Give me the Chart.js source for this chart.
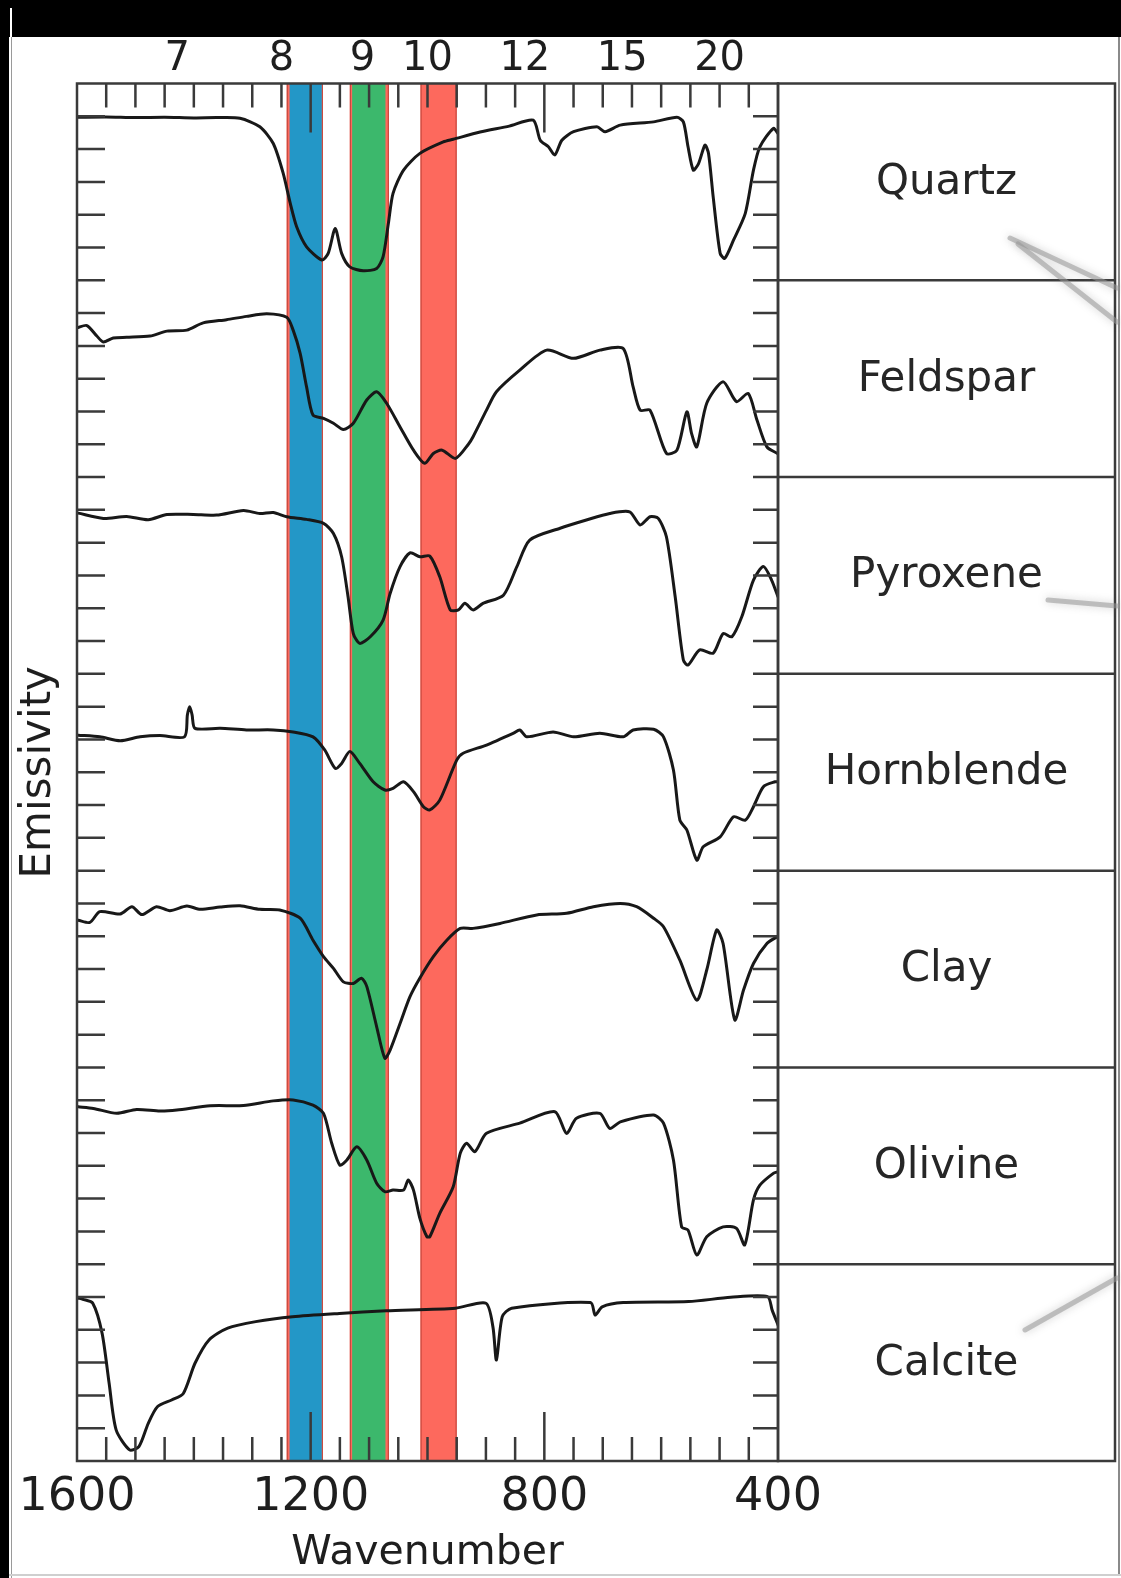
<!DOCTYPE html>
<html>
<head>
<meta charset="utf-8">
<script src="https://cdn.jsdelivr.net/npm/chart.js@4.4.1/dist/chart.umd.min.js"></script>
<style>
html,body{margin:0;padding:0;background:#fff;}
#wrap{position:relative;width:1121px;height:1578px;overflow:hidden;}
canvas{display:block;}
</style>
</head>
<body>
<div id="wrap"><canvas id="c" width="1121" height="1578" style="width:1121px;height:1578px"></canvas></div>
<script>
// ---------------- DATA ----------------
const minerals = ['Quartz','Feldspar','Pyroxene','Hornblende','Clay','Olivine','Calcite'];

const bottomTickLabels = [1600, 1200, 800, 400];      // wavenumber (cm-1)
const topTickLabels = [7, 8, 9, 10, 12, 15, 20];       // wavelength (µm)

// sensor bands (wavenumber ranges)
const bandFrom = [1241, 1133, 1012];
const bandTo   = [1179, 1066, 950];
const innerFrom = [1236, 1129];
const innerTo   = [1181, 1072];

const quartzWn  = [1600,1550,1500,1450,1400,1360,1321,1287,1264,1247,1235,1224,1207,1181,1170,1158,1147,1133,1110,1087,1076,1067,1059,1041,1013,973,956,910,860,819,807,793,782,770,750,710,696,670,613,573,562,554,545,536,525,519,511,499,491,476,456,442,431,408,400];
const quartzVal = [4.97,4.98,4.96,4.97,4.95,4.96,4.94,4.68,4.17,3.26,2.35,1.63,1.02,0.62,0.82,1.58,0.82,0.41,0.29,0.36,0.72,1.73,2.65,3.36,3.87,4.22,4.30,4.52,4.70,4.88,4.27,4.07,3.82,4.27,4.53,4.68,4.53,4.73,4.83,4.97,4.83,4.07,3.36,3.56,4.12,3.87,2.55,0.82,0.67,1.23,2.04,3.36,4.07,4.63,4.48];

const feldsparWn  = [1600,1583,1566,1555,1538,1515,1475,1446,1412,1384,1344,1310,1275,1241,1230,1218,1207,1196,1178,1161,1144,1127,1104,1087,1070,1047,1024,1005,990,975,952,930,922,899,882,842,796,750,705,665,648,636,619,591,573,556,548,539,522,494,471,451,436,419,401];
const feldsparVal = [4.55,4.62,4.30,4.12,4.24,4.26,4.30,4.45,4.48,4.70,4.80,4.90,4.98,4.87,4.48,3.77,2.75,1.89,1.79,1.64,1.45,1.64,2.35,2.60,2.25,1.53,0.82,0.42,0.72,0.82,0.57,1.00,1.23,2.04,2.60,3.26,3.87,3.62,3.87,3.92,2.75,2.04,2.04,0.72,0.82,1.99,1.33,0.92,2.25,2.91,2.30,2.55,1.74,0.92,0.72];

const pyroxeneWn  = [1598,1555,1515,1478,1446,1401,1361,1315,1287,1264,1241,1207,1178,1161,1147,1136,1127,1116,1098,1076,1064,1047,1030,1013,996,979,961,947,936,922,905,870,847,825,773,728,688,654,636,619,605,591,576,562,554,534,511,494,479,462,442,425,411,400];
const pyroxeneVal = [4.90,4.74,4.80,4.70,4.86,4.86,4.84,4.98,4.89,4.92,4.79,4.71,4.59,4.28,3.57,2.35,1.23,0.93,1.13,1.64,2.45,3.27,3.69,3.57,3.59,2.96,1.95,1.95,2.15,1.95,2.15,2.40,3.27,4.08,4.44,4.69,4.89,4.94,4.54,4.79,4.74,4.18,2.35,0.42,0.27,0.73,0.63,1.23,1.13,1.74,2.86,3.27,2.86,2.35];

const hornblendeWn  = [1598,1561,1526,1492,1458,1416,1411,1407,1403,1398,1355,1310,1264,1230,1196,1176,1158,1147,1133,1116,1093,1073,1059,1041,1024,1007,996,979,950,939,899,853,842,830,785,750,705,665,648,613,596,579,568,556,539,528,499,476,456,442,425,405,400];
const hornblendeVal = [4.13,4.08,3.96,4.08,4.12,4.08,4.75,5.00,4.75,4.34,4.34,4.29,4.29,4.23,4.08,3.68,3.12,3.27,3.63,3.27,2.71,2.46,2.51,2.71,2.41,1.95,1.85,2.15,3.37,3.58,3.83,4.19,4.29,4.08,4.23,4.08,4.19,4.08,4.29,4.31,4.08,3.07,1.54,1.24,0.32,0.73,1.03,1.64,1.54,1.95,2.56,2.71,2.71];

const clayWn  = [1598,1578,1561,1526,1506,1489,1464,1441,1412,1389,1355,1321,1287,1253,1218,1196,1178,1161,1144,1127,1113,1104,1087,1073,1064,1047,1030,1013,990,967,944,922,876,813,762,716,670,642,613,596,568,539,522,505,494,474,459,442,419,402];
const clayVal = [4.49,4.42,4.75,4.68,4.90,4.66,4.90,4.78,4.92,4.82,4.89,4.93,4.82,4.80,4.55,3.88,3.38,3.02,2.61,2.56,2.72,2.47,1.24,0.28,0.53,1.34,2.16,2.73,3.38,3.88,4.24,4.24,4.39,4.65,4.70,4.90,5.00,4.90,4.55,4.29,3.27,2.05,2.97,4.19,3.78,1.45,2.36,3.17,3.78,3.98];

const olivineWn  = [1598,1572,1532,1498,1458,1429,1372,1315,1264,1230,1196,1178,1164,1150,1138,1121,1104,1087,1073,1059,1041,1033,1024,1013,1001,996,979,956,944,933,919,899,842,782,762,745,705,688,670,613,596,579,565,554,539,522,494,471,457,442,431,408,400];
const olivineVal = [4.80,4.75,4.60,4.72,4.67,4.70,4.83,4.84,4.98,5.01,4.85,4.60,3.69,3.02,3.18,3.58,3.18,2.47,2.21,2.26,2.26,2.57,2.26,1.40,0.84,0.84,1.55,2.36,3.38,3.69,3.43,3.99,4.30,4.65,3.99,4.45,4.60,4.14,4.34,4.55,4.30,3.18,1.14,1.04,0.28,0.84,1.14,1.09,0.59,1.96,2.41,2.77,2.82];

const calciteWn  = [1598,1590,1573,1557,1545,1533,1510,1494,1478,1462,1438,1418,1398,1374,1342,1294,1231,1151,1071,952,900,888,882,872,856,721,713,701,665,553,481,418,410,400];
const calciteVal = [4.97,4.93,4.81,3.89,2.37,0.95,0.34,0.44,1.15,1.66,1.86,2.06,2.98,3.69,4.05,4.25,4.40,4.50,4.58,4.66,4.81,4.09,3.08,4.40,4.66,4.83,4.45,4.70,4.83,4.86,4.99,5.01,4.60,4.15];

const spectraWn  = [quartzWn, feldsparWn, pyroxeneWn, hornblendeWn, clayWn, olivineWn, calciteWn];
const spectraVal = [quartzVal, feldsparVal, pyroxeneVal, hornblendeVal, clayVal, olivineVal, calciteVal];

// ---------------- STYLE / LAYOUT ----------------
const W = 1121, H = 1578;
const UNITS = 6;                       // y units per mineral panel
const YMAX = minerals.length * UNITS;
const INK = '#3a3a3a';
const LINE = '#181818';
const BOX_RIGHT = 1115;
const FONT = 'DejaVu Sans';

const datasets = minerals.map((name, i) => {
  const off = (minerals.length - 1 - i) * UNITS;
  return {
    label: name,
    data: spectraWn[i].map((w, k) => ({x: w, y: spectraVal[i][k] + off})),
    borderColor: LINE, borderWidth: 3, pointRadius: 0, tension: 0.25, fill: false,
    borderJoinStyle: 'round', borderCapStyle: 'round'
  };
});

const decorPlugin = {
  id: 'decor',
  beforeDraw(chart) {
    const ctx = chart.ctx;
    ctx.save();
    ctx.fillStyle = '#fff'; ctx.fillRect(0, 0, W, H);
    ctx.fillStyle = '#000';
    ctx.fillRect(0, 0, W, 37);
    ctx.fillRect(0, 0, 9, H);
    ctx.fillStyle = '#fff'; ctx.fillRect(10, 8, 2, 30);
    ctx.fillStyle = '#9a9a9a'; ctx.fillRect(11, 37, 1, H - 37);
    ctx.fillStyle = '#8a8a8a'; ctx.fillRect(1118, 37, 2, H - 40);
    ctx.fillStyle = '#cfcfcf'; ctx.fillRect(9, H - 4, W - 9, 2);
    ctx.restore();
  },
  beforeDatasetsDraw(chart) {
    const ctx = chart.ctx, xs = chart.scales.x, a = chart.chartArea;
    ctx.save();
    const red = '#fd695d', redEdge = '#c9483e';
    for (let i = 0; i < bandFrom.length; i++) {
      const x1 = xs.getPixelForValue(bandFrom[i]), x2 = xs.getPixelForValue(bandTo[i]);
      ctx.fillStyle = red; ctx.fillRect(x1, a.top, x2 - x1, a.bottom - a.top);
      ctx.fillStyle = redEdge;
      ctx.fillRect(x1, a.top, 1.2, a.bottom - a.top);
      ctx.fillRect(x2 - 1.2, a.top, 1.2, a.bottom - a.top);
    }
    const inner = ['#2397c7', '#3cb86c'];
    for (let i = 0; i < innerFrom.length; i++) {
      const x1 = xs.getPixelForValue(innerFrom[i]), x2 = xs.getPixelForValue(innerTo[i]);
      ctx.fillStyle = inner[i]; ctx.fillRect(x1, a.top, x2 - x1, a.bottom - a.top);
    }
    ctx.restore();
  },
  afterDatasetsDraw(chart) {
    const ctx = chart.ctx, xs = chart.scales.x, ys = chart.scales.y, a = chart.chartArea;
    ctx.save();
    ctx.strokeStyle = INK; ctx.lineWidth = 2.5; ctx.lineCap = 'butt';
    // x minor/major ticks (top & bottom, inward)
    for (let w = 450; w <= 1550; w += 50) {
      const x = xs.getPixelForValue(w);
      const major = (w % 400 === 0);
      const len = major ? 49 : 24;
      ctx.beginPath();
      ctx.moveTo(x, a.top); ctx.lineTo(x, a.top + len);
      ctx.moveTo(x, a.bottom); ctx.lineTo(x, a.bottom - len);
      ctx.stroke();
    }
    // y ticks (left & right, inward), panel boundaries extend into label boxes
    for (let v = 1; v < YMAX; v++) {
      const y = ys.getPixelForValue(v);
      ctx.beginPath();
      ctx.moveTo(a.left, y); ctx.lineTo(a.left + 28, y);
      ctx.moveTo(a.right - 25, y);
      ctx.lineTo(v % UNITS === 0 ? BOX_RIGHT : a.right, y);
      ctx.stroke();
    }
    // frame
    ctx.strokeRect(a.left, a.top, a.right - a.left, a.bottom - a.top);
    // label boxes
    ctx.strokeRect(a.right, a.top, BOX_RIGHT - a.right, a.bottom - a.top);
    ctx.fillStyle = '#262626';
    ctx.font = '42px "' + FONT + '"';
    ctx.textAlign = 'center'; ctx.textBaseline = 'middle';
    const cx = (a.right + BOX_RIGHT) / 2;
    minerals.forEach((m, i) => {
      const top = (minerals.length - i) * UNITS, bot = top - UNITS;
      const y = (ys.getPixelForValue(top) + ys.getPixelForValue(bot)) / 2;
      ctx.fillText(m, cx, y + 1);
    });
    // faint pointer shadows from the source slide
    ctx.strokeStyle = 'rgba(150,150,150,0.55)';
    ctx.lineWidth = 5; ctx.lineCap = 'round';
    ctx.shadowColor = 'rgba(120,120,120,0.6)'; ctx.shadowBlur = 8;
    const segs = [[1010, 238, 1117, 288], [1018, 244, 1117, 322], [1048, 600, 1117, 606], [1025, 1330, 1117, 1278]];
    segs.forEach(s => { ctx.beginPath(); ctx.moveTo(s[0], s[1]); ctx.lineTo(s[2], s[3]); ctx.stroke(); });
    ctx.restore();
  }
};

new Chart(document.getElementById('c'), {
  type: 'line',
  data: {datasets},
  plugins: [decorPlugin],
  options: {
    responsive: false, animation: false, events: [],
    layout: {padding: {left: 0, right: W - 778, top: 0, bottom: 0}},
    plugins: {legend: {display: false}, tooltip: {enabled: false}},
    scales: {
      x: {
        type: 'linear', position: 'bottom', reverse: true, min: 400, max: 1600,
        afterBuildTicks: s => { s.ticks = bottomTickLabels.map(v => ({value: v})); },
        afterFit: s => { s.height = 117; },
        grid: {display: false, drawTicks: false}, border: {display: false},
        ticks: {autoSkip: false, maxRotation: 0, padding: 9, color: '#1e1e1e',
                font: {family: FONT, size: 46}, callback: v => String(v)},
        title: {display: true, text: 'Wavenumber', color: '#1e1e1e',
                font: {family: FONT, size: 41}, padding: {top: 0, bottom: 0}}
      },
      xTop: {
        type: 'linear', position: 'top', reverse: true, min: 400, max: 1600,
        afterBuildTicks: s => { s.ticks = topTickLabels.map(l => ({value: 10000 / l})); },
        afterFit: s => { s.height = 83.5; },
        grid: {display: false, drawTicks: false}, border: {display: false},
        ticks: {autoSkip: false, maxRotation: 0, padding: 0, color: '#1e1e1e',
                font: {family: FONT, size: 40}, callback: v => String(Math.round(10000 / v))}
      },
      y: {
        type: 'linear', min: 0, max: YMAX,
        afterFit: s => { s.width = 77; },
        grid: {display: false, drawTicks: false}, border: {display: false},
        ticks: {display: false},
        title: {display: true, text: 'Emissivity', color: '#1e1e1e',
                font: {family: FONT, size: 42}, padding: {top: 14, bottom: 0}}
      }
    }
  }
});
</script>
</body>
</html>
